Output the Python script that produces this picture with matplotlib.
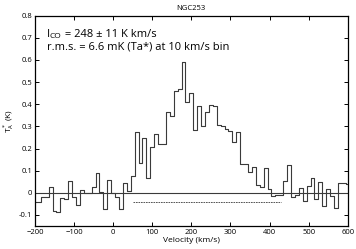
import numpy as np
import matplotlib
matplotlib.use("Agg")
import matplotlib.pyplot as plt

plt.rcParams['font.family'] = ['Open Sans', 'DejaVu Sans']

# channel centres (km/s) and antenna temperature (K), 10 km/s bins
velocity = list(range(-200, 601, 10))
ta_star = [
    -0.04, -0.04, -0.018, -0.018, 0.027, -0.083, -0.087, -0.022, -0.03, 0.055,
    -0.02, -0.053, 0.012, 0.0, 0.0, 0.027, 0.09, 0.005, -0.075, 0.056,
    -0.002, -0.02, -0.072, 0.045, 0.01, 0.075, 0.275, 0.133, 0.249, 0.068,
    0.208, 0.266, 0.222, 0.222, 0.366, 0.348, 0.458, 0.467, 0.59, 0.41,
    0.45, 0.285, 0.392, 0.3, 0.363, 0.398, 0.393, 0.306, 0.3, 0.287,
    0.278, 0.231, 0.275, 0.132, 0.132, 0.092, 0.118, 0.033, 0.027, 0.113,
    0.015, -0.015, -0.012, -0.008, 0.054, 0.126, -0.018, -0.008, 0.022, -0.037,
    0.03, 0.068, -0.03, 0.05, -0.06, 0.015, -0.015, -0.07, 0.045, 0.045,
    0.04,
]

# integration window shown as dashed line
window = [50, 430]
window_level = -0.04

xticks = [-200, -100, 0, 100, 200, 300, 400, 500, 600]
yticks = [-0.1, 0, 0.1, 0.2, 0.3, 0.4, 0.5, 0.6, 0.7, 0.8]
ytick_labels = ['-0.1', '0', '0.1', '0.2', '0.3', '0.4', '0.5', '0.6', '0.7', '0.8']

fig = plt.figure(figsize=(3.56, 2.49), dpi=100)
ax = fig.add_axes([0.0983, 0.0924, 0.8784, 0.8446])

ax.step(velocity, ta_star, where='mid', color='#3a3a3a', lw=0.8)
ax.axhline(0, color='#3a3a3a', lw=0.8)
ax.plot(window, [window_level, window_level], color='#3a3a3a', lw=0.6, ls=(0, (2, 1)))

ax.set_xlim(-200, 600)
ax.set_ylim(-0.15, 0.8)
ax.set_xticks(xticks)
ax.set_yticks(yticks)
ax.set_yticklabels(ytick_labels)
ax.tick_params(direction='in', length=3, width=0.7, labelsize=5.5,
               top=True, right=True, pad=2)
for s in ax.spines.values():
    s.set_linewidth(0.9)

ax.set_xlabel('Velocity (km/s)', fontsize=6, labelpad=1)
ax.set_ylabel(r'T$_\mathregular{A}^*$ (K)', fontsize=6, labelpad=2)
ax.set_title('NGC253', fontsize=5.5, pad=4)

t1 = ax.text(-170, 0.703, 'I', fontsize=8)
t2 = ax.annotate('CO', xy=(1, 0), xycoords=t1, va='bottom', fontsize=6)
ax.annotate(' = 248 \u00b1 11 K km/s', xy=(1, 0), xycoords=t2, va='bottom', fontsize=8)
ax.text(-170, 0.645, 'r.m.s. = 6.6 mK (Ta*) at 10 km/s bin', fontsize=8)

fig.savefig('out.png', dpi=100)
